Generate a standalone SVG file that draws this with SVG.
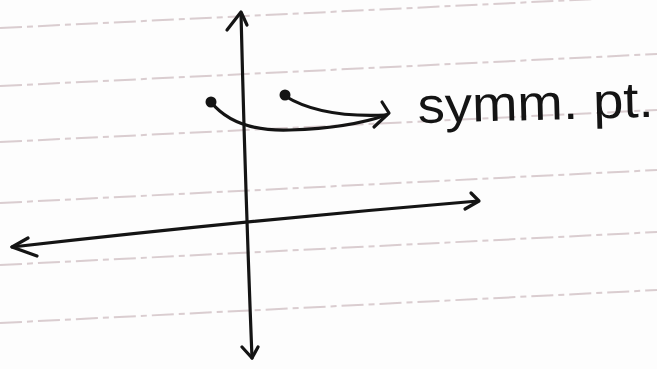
<svg xmlns="http://www.w3.org/2000/svg" width="657" height="369" viewBox="0 0 657 369">
<style>
.rule{stroke:#cdbcc0;stroke-width:2;stroke-dasharray:22 5 6 5;fill:none;opacity:0.75}
.ink{stroke:#141414;stroke-width:3.2;fill:none;stroke-linecap:round;stroke-linejoin:round}
.dot{fill:#141414}
.lbl{font-family:"Liberation Sans",Arial,sans-serif;font-size:50px;fill:#141414}
</style>
<rect width="657" height="369" fill="#fdfdfd"/>
<g id="paper-lines">
<line class="rule" x1="0" y1="28" x2="657" y2="-4"/>
<line class="rule" x1="0" y1="86" x2="657" y2="54"/>
<line class="rule" x1="0" y1="142" x2="657" y2="110"/>
<line class="rule" x1="0" y1="203" x2="657" y2="170"/>
<line class="rule" x1="0" y1="265" x2="657" y2="232"/>
<line class="rule" x1="0" y1="323" x2="657" y2="290"/>
</g>
<g id="connectors">
<path class="ink" d="M241 13 Q245 180 252 358"/>
<path class="ink" d="M227 30 L241 12 L247 25"/>
<path class="ink" d="M242 347 L252 358 L258 347"/>
<path class="ink" d="M12 247 Q250 220 478 201"/>
<path class="ink" d="M28 238 L12 247 L37 256"/>
<path class="ink" d="M471 193 L479 201 L465 209"/>
<path class="ink" d="M211 102 Q235 132 290 130 Q350 128 386 115"/>
<path class="ink" d="M285 96 Q320 118 386 115"/>
<path class="ink" d="M382 102 L389 113 L374 127"/>
</g>
<g id="point-left"><circle class="dot" cx="211" cy="102" r="5.5"/></g>
<g id="point-right"><circle class="dot" cx="285" cy="95" r="5.5"/></g>
<g id="label"><text class="lbl" x="418" y="123" textLength="236" lengthAdjust="spacingAndGlyphs" transform="rotate(-1.5 418 123)">symm. pt.</text></g>
</svg>
